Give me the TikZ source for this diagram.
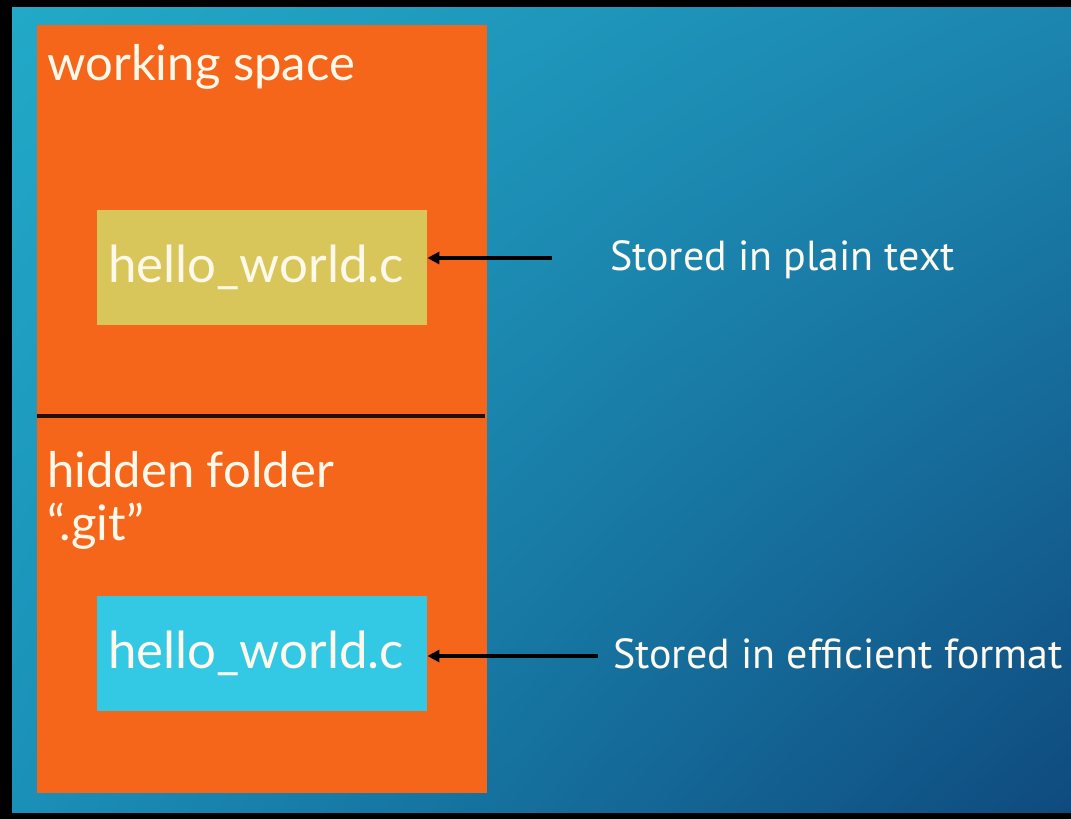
\documentclass[tikz,border=0pt]{standalone}
\usepackage{fontspec}
\setmainfont{Lato}
\newfontfamily\notefont{PT Sans}
\usetikzlibrary{arrows.meta,shadings}
\definecolor{bgTL}{HTML}{22A9C8}
\definecolor{bgTR}{HTML}{1C86B0}
\definecolor{bgBL}{HTML}{1A90B8}
\definecolor{bgBR}{HTML}{0F4A7E}
\definecolor{paneorange}{HTML}{F5661B}
\definecolor{fileyellow}{HTML}{D9C65A}
\definecolor{filecyan}{HTML}{33C8E3}
\definecolor{ink}{HTML}{FFF9EC}
\tikzset{
  pane/.style={fill=paneorange, draw=none, anchor=north west, inner sep=0pt},
  filebox/.style={draw=none, anchor=north west, minimum width=330pt, minimum height=115pt,
    inner xsep=11pt, inner ysep=0pt, text width=308pt, align=left,
    text=ink, font=\fontsize{51}{54}\selectfont},
  title/.style={anchor=base west, inner sep=0pt, text=ink, font=\fontsize{49}{53}\selectfont, align=left},
  note/.style={anchor=base west, inner sep=0pt, text=ink, font=\notefont\fontsize{42}{44}\selectfont},
  pointer/.style={line width=3.6pt, draw=black, -{Triangle[length=12pt,width=12pt]}},
}
\begin{document}
\begin{tikzpicture}[x=1pt,y=-1pt]
\useasboundingbox (0,0) rectangle (1071,819);
% frame and backdrop
\fill[black] (0,0) rectangle (1071,819);
\shade[upper left=bgTL, upper right=bgTR, lower left=bgBL, lower right=bgBR] (12,7) rectangle (1071,812);
% repository pane
\node[pane, minimum width=450pt, minimum height=768pt] (pane) at (37,25) {};
\coordinate (divL) at (37,416);
\coordinate (divR) at (485,416);
\draw[line width=3.2pt, black!85!paneorange] (divL) -- (divR);
% section titles
\node[title] (ws) at (47,80) {working space};
\node[title] (hf) at (47,540) {hidden folder\\“.git”};
% files
\node[filebox, fill=fileyellow] (plain) at (97,210) {hello\_world.c};
\node[filebox, fill=filecyan] (packed) at (97,596) {hello\_world.c};
% notes and pointers
\node[note] (n1) at (610,270) {Stored in plain text};
\node[note] (n2) at (613,668) {Stored in efficient format};
\coordinate (p1) at (552,258);
\coordinate (p2) at (598,656);
\draw[pointer] (p1) -- (p1 -| plain.east);
\draw[pointer] (p2) -- (p2 -| packed.east);
\end{tikzpicture}
\end{document}
